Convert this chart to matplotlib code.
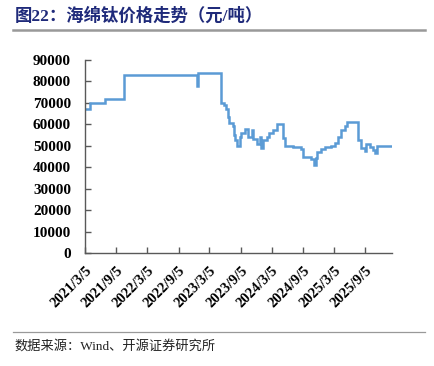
import matplotlib
matplotlib.use('Agg')
import matplotlib.pyplot as plt
import pandas as pd

# price change points (date, yuan/ton), drawn as steps
DATES = [
    '2021-03-05', '2021-04-06', '2021-06-30', '2021-10-17', '2022-12-20', '2022-12-26',
    '2023-05-14', '2023-05-27', '2023-06-08', '2023-06-20', '2023-07-01', '2023-07-19',
    '2023-07-25', '2023-08-05', '2023-08-17', '2023-08-29', '2023-09-09', '2023-10-03',
    '2023-10-15', '2023-11-13', '2023-11-19', '2023-12-12', '2023-12-30', '2024-01-04',
    '2024-01-16', '2024-02-09', '2024-02-20', '2024-03-15', '2024-04-07', '2024-05-12',
    '2024-05-24', '2024-07-10', '2024-08-25', '2024-09-06', '2024-10-23', '2024-11-10',
    '2024-11-21', '2024-11-27', '2024-12-20', '2025-01-13', '2025-02-17', '2025-03-13',
    '2025-03-30', '2025-04-16', '2025-05-10', '2025-05-22', '2025-07-25', '2025-08-11',
    '2025-09-04', '2025-09-10', '2025-10-03', '2025-10-21', '2025-11-01', '2025-11-13',
    '2026-02-09',
]
PRICES = [
    67000, 70000, 72000, 83000, 78000, 84000,
    70000, 69000, 67000, 63500, 60500, 59000,
    55000, 52500, 50000, 54000, 56000, 58000,
    54000, 57500, 53000, 51000, 54000, 49000,
    52500, 54000, 56000, 57500, 60000, 53500,
    50000, 49500, 48500, 45000, 44000, 41000,
    44500, 47000, 48500, 49500, 50000, 51500,
    54000, 57500, 59000, 61000, 52500, 49000,
    47500, 51000, 49500, 48000, 46500, 50000,
    50000,
]
TICK_DATES = ['2021-03-05', '2021-09-05', '2022-03-05', '2022-09-05', '2023-03-05',
              '2023-09-05', '2024-03-05', '2024-09-05', '2025-03-05', '2025-09-05']
TICK_LABELS = ['2021/3/5', '2021/9/5', '2022/3/5', '2022/9/5', '2023/3/5',
               '2023/9/5', '2024/3/5', '2024/9/5', '2025/3/5', '2025/9/5']
Y_TICKS = list(range(0, 90001, 10000))

TITLE = '图22：海绵钛价格走势（元/吨）'
SOURCE = '数据来源：Wind、开源证券研究所'

SERIF = ['Liberation Serif', 'Noto Sans CJK SC']

fig = plt.figure(figsize=(4.34, 3.66), dpi=100)
ax = fig.add_axes([85/434, 1 - 253/366, (392 - 85)/434, (253 - 60)/366])

x = pd.to_datetime(DATES)
ax.plot(x, PRICES, drawstyle='steps-post', color='#5B9BD5', lw=1.8,
        solid_joinstyle='miter')

ax.set_xlim(pd.Timestamp('2021-03-05'), pd.Timestamp('2026-02-09'))
ax.set_ylim(0, 90000)
ax.set_yticks(Y_TICKS)
ax.set_yticklabels([str(v) for v in Y_TICKS], fontfamily='Liberation Serif',
                   fontweight='bold', fontsize=11)
ax.set_xticks(pd.to_datetime(TICK_DATES))
ax.set_xticklabels(TICK_LABELS, rotation=45, ha='right', rotation_mode='anchor',
                   fontfamily='Liberation Serif', fontweight='bold', fontsize=10.5)

for s in ['top', 'right']:
    ax.spines[s].set_visible(False)
for s in ['left', 'bottom']:
    ax.spines[s].set_color('#595959')
    ax.spines[s].set_linewidth(1.0)
ax.tick_params(direction='in', length=4, color='#595959', width=1.0)
ax.tick_params(axis='y', pad=10)
ax.tick_params(axis='x', pad=8)

# title, rules and source
fig.text(15/434, 1 - 16/366, TITLE, color='#1F2A7A', fontsize=12.5,
         fontweight='bold', family=SERIF, ha='left', va='center')
fig.add_artist(plt.Line2D([13/434, 425/434], [1 - 30/366, 1 - 30/366],
                          color='#999999', lw=1.8))
fig.add_artist(plt.Line2D([13/434, 425/434], [1 - 332/366, 1 - 332/366],
                          color='#999999', lw=0.9))
fig.text(14/434, 1 - 346/366, SOURCE, color='#222222', fontsize=9.5,
         family=SERIF, ha='left', va='center')

fig.savefig('out.png', dpi=100, facecolor='white')
